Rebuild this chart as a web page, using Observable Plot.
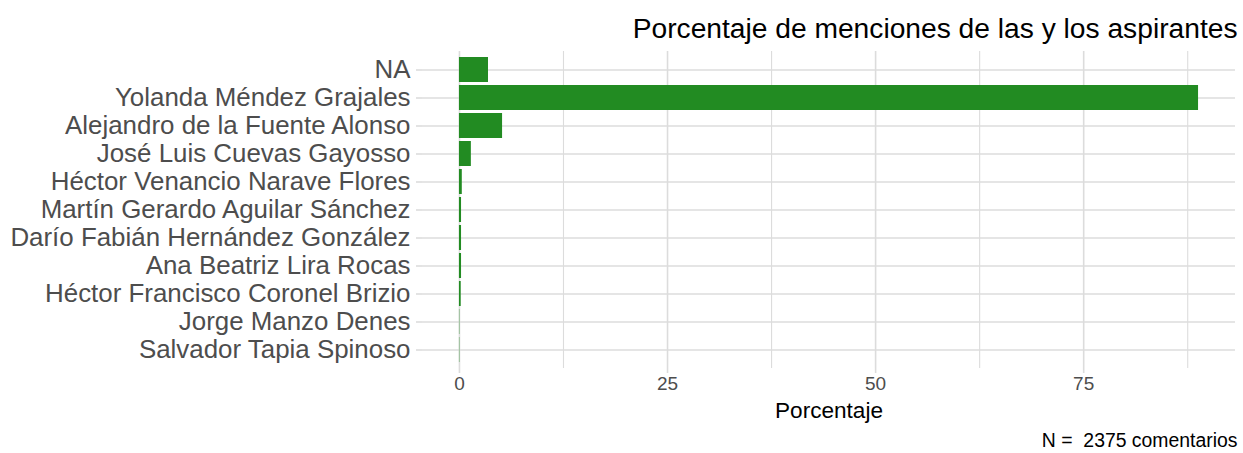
<!DOCTYPE html>
<html>
<head>
<meta charset="utf-8">
<script src="https://cdn.jsdelivr.net/npm/d3@7"></script>
<script src="https://cdn.jsdelivr.net/npm/@observablehq/plot@0.6"></script>
<style>
  html, body { margin: 0; padding: 0; background: #fff; }
  #chart svg { display: block; font-family: "Liberation Sans", Arial, sans-serif; }
</style>
</head>
<body>
<div id="chart"></div>
<script>
const candidates = [
  "NA",
  "Yolanda Méndez Grajales",
  "Alejandro de la Fuente Alonso",
  "José Luis Cuevas Gayosso",
  "Héctor Venancio Narave Flores",
  "Martín Gerardo Aguilar Sánchez",
  "Darío Fabián Hernández González",
  "Ana Beatriz Lira Rocas",
  "Héctor Francisco Coronel Brizio",
  "Jorge Manzo Denes",
  "Salvador Tapia Spinoso"
];
const percentages = [3.49, 88.8, 5.18, 1.43, 0.34, 0.25, 0.25, 0.25, 0.21, 0.04, 0.04];
const majorTicks = [0, 25, 50, 75];
const minorTicks = [12.5, 37.5, 62.5, 87.5];
const titleText = "Porcentaje de menciones de las y los aspirantes";
const xLabel = "Porcentaje";
const captionText = "N =  2375 comentarios";

const data = candidates.map((c, i) => ({candidate: c, pct: percentages[i]}));
const maxV = d3.max(percentages);
const pad = maxV * 0.05;

const gridColor = "#dcdcdc";

const chart = Plot.plot({
  width: 1243,
  height: 453,
  marginTop: 51,
  marginBottom: 85,
  marginLeft: 422,
  marginRight: 8,
  style: {fontFamily: "'Liberation Sans', Arial, sans-serif", background: "#fff"},
  x: {domain: [-pad, maxV + pad]},
  y: {domain: candidates, paddingInner: 0.1, paddingOuter: 0.15},
  marks: [
    Plot.gridX(minorTicks, {stroke: gridColor, strokeOpacity: 1, strokeWidth: 1.1}),
    Plot.gridX(majorTicks, {stroke: gridColor, strokeOpacity: 1, strokeWidth: 1.6}),
    Plot.gridY(candidates, {stroke: gridColor, strokeOpacity: 1, strokeWidth: 1.6}),
    Plot.axisX(majorTicks, {
      tickSize: 5, stroke: gridColor, strokeWidth: 1.6, tickPadding: 3,
      fill: "#4d4d4d", fontSize: 19, label: null
    }),
    Plot.axisY({
      tickSize: 6, stroke: gridColor, strokeWidth: 1.6, tickPadding: 6,
      fill: "#4d4d4d", fontSize: 25.9, label: null
    }),
    Plot.barX(data, {x: "pct", y: "candidate", fill: "#228B22"}),
    Plot.text([xLabel], {frameAnchor: "bottom", lineAnchor: "middle", dy: 42, fontSize: 22.6, fill: "#000", text: d => d}),
    Plot.text([titleText], {frameAnchor: "top-right", textAnchor: "end", lineAnchor: "top", dx: 2, dy: -34, fontSize: 28.2, fill: "#000", text: d => d}),
    Plot.text([captionText], {frameAnchor: "bottom-right", textAnchor: "end", lineAnchor: "middle", dx: 2, dy: 72, fontSize: 19.4, fill: "#000", text: d => d, style: "white-space: pre"})
  ]
});
document.getElementById("chart").appendChild(chart);
</script>
</body>
</html>
